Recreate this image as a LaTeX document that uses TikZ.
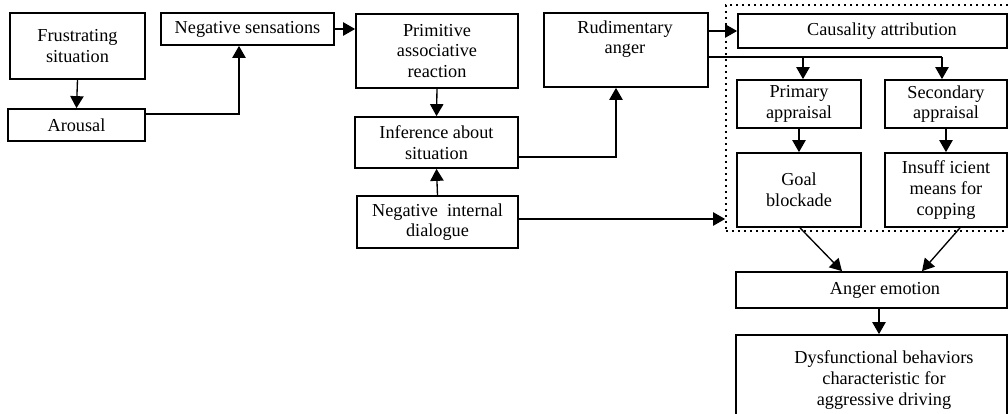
\documentclass[tikz,border=0pt]{standalone}
\usepackage{fontspec}
\setmainfont{Liberation Serif}
\usetikzlibrary{arrows.meta}
\tikzset{
  box/.style 2 args={draw, line width=1.3pt, rectangle, inner sep=0pt,
    minimum width=#1*0.75pt, minimum height=#2*0.75pt, align=center,
    font=\fontsize{13.7}{15.5}\selectfont},
  txt/.style={align=center, inner sep=0pt, font=\fontsize{13.7}{15.5}\selectfont},
  arr/.style={line width=1pt, -{Triangle[length=9pt,width=10pt]}},
  ln/.style={line width=1pt},
  dotbox/.style 2 args={draw, line width=1.3pt, dash pattern=on 1.3pt off 3.2pt, rectangle,
    inner sep=0pt, minimum width=#1*0.75pt, minimum height=#2*0.75pt},
}
\begin{document}
\begin{tikzpicture}[x=0.75pt,y=-0.75pt]
\useasboundingbox (0,0) rectangle (1008,414);
% dotted region
\node[dotbox={304}{226}] (dot) at (878,118) {};
% left column
\node[box={135}{66}] (frus) at (77.5,46) {Frustrating\\situation};
\node[box={137}{32}] (arou) at (76.5,125) {Arousal};
\node[box={173}{32}] (negs) at (247.5,29) {Negative sensations};
\node[box={162}{74}] (prim) at (437,51) {Primitive\\associative\\reaction};
\node[box={163}{51}] (infe) at (436.5,142.5) {Inference about\\situation};
\node[box={161}{52}] (nid) at (437.5,222) {Negative~ internal\\dialogue};
\node[box={164}{74}] (rud) at (626,50) {};
\node[txt] (rudt) at (625,39) {Rudimentary\\anger};
% right column
\node[box={269}{34}] (caus) at (872.5,31) {};
\node[txt] (caust) at (882,31) {Causality attribution};
\node[box={124}{48}] (prap) at (799,104) {Primary\\appraisal};
\node[box={122}{48}] (seap) at (946,104) {Secondary\\appraisal};
\node[box={124}{74}] (goal) at (799,190) {Goal\\blockade};
\node[box={122}{74}] (insu) at (946,190) {Insuff icient\\means for\\copping};
\node[box={271}{36}] (ange) at (871.5,290) {};
\node[txt] (anget) at (885,290) {Anger emotion};
\node[box={271}{95}] (dysf) at (871.5,382.5) {};
\node[txt] (dysft) at (884,380) {Dysfunctional behaviors\\characteristic for\\aggressive driving};
% connectors
\draw[arr] (frus.south) -- (arou.north);
\draw[arr] (arou.east |- 0,114) -| (negs.south -| 239,0);
\draw[arr] (negs.east) -- (prim.west |- negs.east);
\draw[arr] (prim.south) -- (infe.north);
\draw[arr] (nid.north) -- (infe.south);
\draw[arr] (infe.east |- 0,157) -| (rud.south -| 616,0);
\draw[arr] (nid.east |- 0,219) -- (dot.west |- 0,219);
\draw[arr] (rud.east |- caus.west) -- (caus.west);
\draw[ln] (rud.east |- 0,57) -- (942,57);
\draw[arr] (942,57) -- (seap.north -| 942,0);
\draw[arr] (803,57) -- (prap.north -| 803,0);
\draw[arr] (prap.south) -- (goal.north);
\draw[arr] (seap.south) -- (insu.north);
\draw[arr] (goal.south -| 800,0) -- (ange.north -| 842,0);
\draw[arr] (insu.south -| 960,0) -- (ange.north -| 922,0);
\draw[arr] (ange.south -| 879,0) -- (dysf.north -| 879,0);
\end{tikzpicture}
\end{document}
